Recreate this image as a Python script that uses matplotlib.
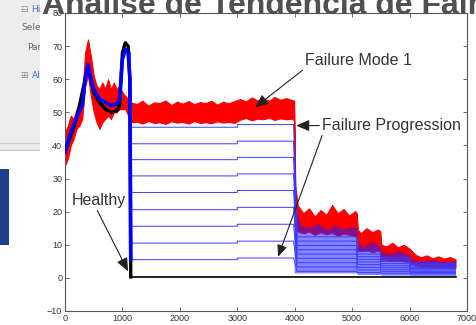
import matplotlib
matplotlib.use("Agg")
import matplotlib.pyplot as plt
from matplotlib.patches import Rectangle
from matplotlib.lines import Line2D

plt.rcParams['font.family'] = ['Liberation Sans', 'DejaVu Sans']

# --- data ---
# red trace (failure mode 1) drawn as a noisy band: x, upper edge, lower edge
red_x = [0, 50, 100, 150, 200, 250, 300, 350, 400, 450, 500, 550, 600, 650, 700,
         750, 800, 850, 900, 950, 1000, 1050, 1100, 1150,
         1250, 1350, 1450, 1550, 1650, 1750, 1850, 1950, 2050, 2150, 2250, 2350,
         2450, 2550, 2650, 2750, 2850, 2950,
         3050, 3150, 3250, 3350, 3450, 3550, 3650, 3750, 3850, 3950,
         3990, 4010, 4050,
         4150, 4250, 4350, 4450, 4550, 4650, 4750, 4850, 4950, 5050,
         5080, 5100, 5150, 5250, 5350, 5450, 5490, 5510,
         5600, 5700, 5800, 5900, 6000,
         6100, 6200, 6300, 6400, 6500, 6600, 6700, 6800]
red_hi = [44, 46, 49, 48, 51, 50, 55, 68, 72, 67, 61, 58, 57, 59, 57,
          60, 57, 59, 57, 58, 56, 55, 54, 53,
          52.5, 53.5, 52, 53, 52.8, 53.6, 52.2, 53.2, 52.6, 53.4, 52.4, 53.1,
          52.8, 53.5, 52.3, 53.2, 52.7, 53.4,
          54, 53.3, 54.5, 53.6, 54.2, 53.5, 54.6, 53.8, 54.3, 53.7,
          53.5, 28, 22,
          19.5, 21, 18.5, 20.5, 19, 22, 19.5, 20.8, 18.8, 20.2,
          19.5, 14.5, 13.5, 15, 13.8, 14.6, 14, 10,
          9.5, 10.6, 9.2, 10, 8.8,
          7, 6.2, 6.8, 5.9, 6.5, 5.8, 6.3, 5.6]
red_lo = [34, 36, 40, 42, 45, 46, 48, 58, 61, 55, 50, 47, 45, 47, 48,
          49, 48, 50, 50, 51, 51, 51, 49, 47,
          47.2, 46.6, 47.4, 46.8, 47.0, 46.5, 47.3, 46.9, 47.1, 46.6, 47.4, 46.8,
          47.0, 46.7, 47.3, 46.9, 47.1, 46.8,
          47.8, 48.3, 47.6, 48.1, 47.9, 48.4, 47.7, 48.2, 47.9, 48.1,
          47.5, 16, 14,
          13.5, 14, 13, 13.8, 13.2, 13.6, 12.8, 13.4, 13, 12.6,
          12.5, 8.5, 8, 8.4, 7.8, 8.2, 7.8, 5.5,
          5.5, 5.2, 5.4, 5, 4.8,
          3.8, 3.4, 3.6, 3.2, 3.4, 3.1, 3.3, 3]

# start-up transient shared by all runs (before ~1150), then the drop
blue_start_x = [0, 100, 200, 300, 350, 400, 450, 500, 600, 700, 800, 900, 950,
                1000, 1050, 1100, 1130, 1145]
blue_start_y = [38, 44, 48.5, 52, 60, 64.5, 60, 57, 54, 53, 52, 52.5, 54,
                66, 69, 68, 60, 5.5]
black_start_x = [0, 200, 350, 400, 500, 600, 700, 800, 900, 950, 1000, 1050,
                 1100, 1130, 1145]
black_start_y = [38, 48, 60, 64, 56, 53, 51, 50, 50.5, 52, 68, 71, 70, 60, 0.3]

# healthy run
healthy_x = [1145, 6800]
healthy_y = [0.3, 0.3]

# failure progression runs: level of each run in every segment
seg_x = [1160, 3000, 3000, 3980, 4040, 5080, 5090, 5490, 5500, 6000, 6010, 6800]
lev_a = [5.5, 10.5, 15.6, 20.6, 25.8, 30.8, 35.7, 40.5, 45.5]   # 1150-3000
lev_b = [6.0, 11.1, 16.2, 21.3, 26.4, 31.4, 36.4, 41.3, 46.3]   # 3000-4000
lev_c = [2.0, 3.3, 4.6, 5.9, 7.2, 8.5, 9.8, 11.1, 12.4]         # 4000-5080
lev_d = [1.6, 2.4, 3.2, 4.0, 4.8, 5.6, 6.4, 7.2, 8.0]           # 5080-5500
lev_e = [1.4, 2.0, 2.6, 3.2, 3.8, 4.4, 5.0, 5.6, 6.2]           # 5500-6000
lev_f = [1.2, 1.6, 2.0, 2.4, 2.8, 3.2, 3.6, 4.0, 4.4]           # 6000-6800

# dense blue mass after 4000
bluemass_x = [3990, 4030, 4100, 4250, 4400, 4550, 4700, 4850, 5000, 5080,
              5090, 5200, 5350, 5490, 5500, 5650, 5800, 6000,
              6010, 6200, 6400, 6600, 6800]
bluemass_hi = [48, 20, 16, 15, 16.5, 14.5, 16, 14.8, 15.5, 15,
               10.5, 9.5, 11, 9.5, 8, 7.2, 8.2, 7,
               5.8, 5, 5.6, 4.8, 5.2]
bluemass_lo = [1.5, 1.5, 1.5, 1.5, 1.5, 1.5, 1.5, 1.5, 1.5, 1.5,
               1, 1, 1, 1, 0.8, 0.8, 0.8, 0.8,
               0.6, 0.6, 0.6, 0.6, 0.6]

xticks = [0, 1000, 2000, 3000, 4000, 5000, 6000, 7000]
yticks = [-10, 0, 10, 20, 30, 40, 50, 60, 70, 80]

W, H = 477, 325
fig = plt.figure(figsize=(W / 100, H / 100), dpi=100)
fig.patch.set_facecolor('white')

# left UI panel of the slide (cut off)
fig.patches.append(Rectangle((0, 1 - 150 / H), 40 / W, 150 / H, transform=fig.transFigure,
                             facecolor='#ececec', edgecolor='none', zorder=0.1))
for yy in (143, 150):
    fig.lines.append(Line2D([0, 40 / W], [1 - yy / H, 1 - yy / H], transform=fig.transFigure,
                            color='#c9c9c9', lw=0.8, zorder=0.2))
fig.patches.append(Rectangle((0, 1 - 245 / H), 9 / W, 76 / H, transform=fig.transFigure,
                             facecolor='#1e3f8e', edgecolor='none', zorder=0.1))
ui = [(28, 10, '⊟', '#8a8a8a'), (41, 10, 'Hi', '#4a6fd0'),
      (41, 28, 'Sele', '#666666'), (41, 47, 'Par', '#666666'),
      (28, 75, '⊞', '#8a8a8a'), (41, 75, 'Al', '#4a6fd0')]
for px, py, s, c in ui:
    fig.text(px / W, 1 - py / H, s, fontsize=6.5, color=c, va='center', ha='right',
             family=['DejaVu Sans'], zorder=0.5)

# white area of the chart picture
fig.patches.append(Rectangle((40 / W, 0), 1 - 40 / W, 1, transform=fig.transFigure,
                             facecolor='white', edgecolor='none', zorder=0.8))

ax = fig.add_axes([65 / W, 1 - 311 / H, (467 - 65) / W, 298 / H])
ax.set_zorder(2)

ax.fill_between(red_x, red_lo, red_hi, color='#ff0000', lw=0.8, zorder=2)
ax.fill_between(bluemass_x, bluemass_lo, bluemass_hi, color='#2020ff', alpha=0.55,
                lw=0, zorder=3)

segs = [lev_a, lev_b, lev_c, lev_d, lev_e, lev_f]
for i in range(len(lev_a)):
    ys = []
    for s in segs:
        ys += [s[i], s[i]]
    ax.plot([1130] + seg_x, [68] + ys, color='#3a3aff', lw=0.7, zorder=4)

ax.plot(black_start_x, black_start_y, color='black', lw=2.4, zorder=3.5)
ax.plot(blue_start_x, blue_start_y, color='#0000ff', lw=2.6, zorder=5)
ax.plot(healthy_x, healthy_y, color='black', lw=1.2, zorder=5)

ax.set_xlim(0, 7000)
ax.set_ylim(-10, 80)
ax.set_xticks(xticks)
ax.set_yticks(yticks)
ax.tick_params(direction='in', top=True, right=True, length=3, width=0.6,
               labelsize=6.5, labelcolor='#333333', color='#555555', pad=2)
for sp in ax.spines.values():
    sp.set_color('#555555')
    sp.set_linewidth(0.8)

arrow = dict(arrowstyle='-|>,head_length=0.7,head_width=0.3', color='#222222', lw=0.8,
             shrinkA=0, shrinkB=0)
tkw = dict(fontsize=11.5, color='#333333')
ax.annotate('Failure Mode 1', xy=(3310, 51.5), xytext=(4181, 65.6), ha='left', va='center',
            arrowprops=dict(arrow, relpos=(0, 0)), zorder=6, **tkw)
ax.annotate('Failure Progression', xy=(4024, 46), xytext=(4477, 46), ha='left', va='center',
            arrowprops=dict(arrow, relpos=(0, 0.5)), zorder=6, **tkw)
ax.annotate('', xy=(3711, 6.4), xytext=(4477, 43), arrowprops=arrow, zorder=6)
ax.annotate('Healthy', xy=(1098, 2), xytext=(584, 23.5), ha='center', va='center',
            arrowprops=dict(arrow, relpos=(0.45, 0)), zorder=6, **tkw)

# slide title, cut off by the top edge
fig.text(42 / W, 1 - 14.5 / H, 'Análise de Tendência de Falhas', fontsize=23,
         fontweight='bold', color='#505050', ha='left', va='baseline', zorder=3)

fig.savefig('out.png', dpi=100)
